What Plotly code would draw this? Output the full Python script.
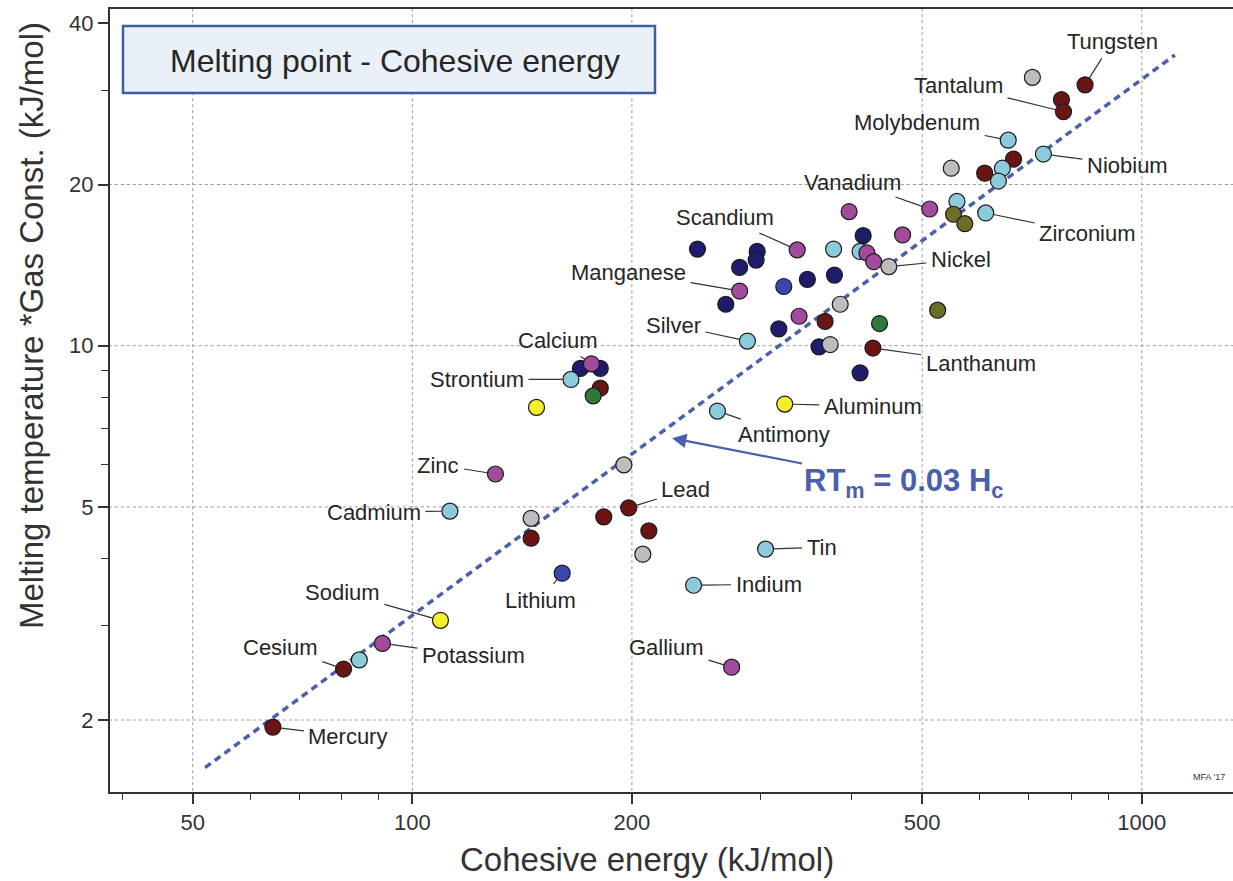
import numpy as np
import plotly.graph_objects as go

# ---------------- data ----------------
energy = [708, 836, 776, 781, 656, 733, 667, 644, 548, 609, 636, 558, 552, 572, 611,
          512, 397, 470, 415, 337, 378, 411, 420, 429, 450, 246, 297, 296, 281, 281,
          269, 323, 348, 379, 386, 339, 368, 318, 288, 361, 374, 428, 437, 525, 411,
          324, 262, 170, 176, 181, 165, 181, 177, 148, 130, 112.6, 145.5, 145.5, 195, 198,
          183, 211, 207, 160.5, 305, 243, 274, 109.3, 91, 84.6, 80.5, 64.4]
rtm = [31.7, 30.7, 28.8, 27.35, 24.2, 22.8, 22.3, 21.45, 21.45, 21.0, 20.3, 18.6, 17.6, 16.9, 17.7,
       18.0, 17.8, 16.1, 16.05, 15.1, 15.15, 15.0, 14.9, 14.35, 14.05, 15.15, 15.0, 14.45, 14.0, 12.65,
       11.95, 12.9, 13.3, 13.55, 11.95, 11.35, 11.1, 10.75, 10.2, 9.95, 10.05, 9.9, 11.0, 11.65, 8.9,
       7.78, 7.55, 9.07, 9.25, 9.07, 8.65, 8.33, 8.06, 7.67, 5.76, 4.91, 4.76, 4.37, 5.99, 4.98,
       4.79, 4.51, 4.08, 3.76, 4.17, 3.57, 2.51, 3.07, 2.78, 2.59, 2.49, 1.94]
group = ["gray", "maroon", "maroon", "maroon", "lightblue", "lightblue", "maroon", "lightblue", "gray", "maroon",
         "lightblue", "lightblue", "olive", "olive", "lightblue", "purple", "purple", "purple", "navy", "purple",
         "lightblue", "lightblue", "purple", "purple", "gray", "navy", "navy", "navy", "navy", "purple",
         "navy", "medblue", "navy", "navy", "gray", "purple", "maroon", "navy", "lightblue", "navy",
         "gray", "maroon", "green", "olive", "navy", "yellow", "lightblue", "navy", "purple", "navy",
         "lightblue", "maroon", "green", "yellow", "purple", "lightblue", "gray", "maroon", "gray", "maroon",
         "maroon", "maroon", "gray", "medblue", "lightblue", "lightblue", "purple", "yellow", "purple", "lightblue",
         "maroon", "maroon"]
names = ["", "Tungsten", "", "Tantalum", "Molybdenum", "Niobium", "", "", "", "",
         "", "", "", "", "Zirconium", "Vanadium", "", "", "", "Scandium",
         "", "", "", "", "Nickel", "", "", "", "", "Manganese",
         "", "", "", "", "", "", "", "", "Silver", "",
         "", "Lanthanum", "", "", "", "Aluminum", "Antimony", "", "Calcium", "",
         "Strontium", "", "", "", "Zinc", "Cadmium", "", "", "", "Lead",
         "", "", "", "Lithium", "Tin", "Indium", "Gallium", "Sodium", "Potassium", "",
         "Cesium", "Mercury"]

x_major = [50, 100, 200, 500, 1000]
x_minor = [40, 60, 70, 80, 90, 300, 400, 600, 700, 800, 900]
y_major = [2, 5, 10, 20, 40]
y_minor = [3, 4, 6, 7, 8, 9, 30]
x_grid = [50, 100, 200, 500, 1000]
y_grid = [2, 5, 10, 20]

fit_x = [52, 1110]
fit_y = [1.63, 34.9]
arrow_point = [227, 6.72]

# ---------------- styles / layout ----------------
W, H = 1233, 881
L, R, T, B = 110, 0, 9, 89
PW, PH = W - L - R, H - T - B

def px(xp):
    return (xp - L) / PW

def py(yp):
    return 1 - (yp - T) / PH

colors = {
    "maroon": "#6b1414", "navy": "#1f1c6c", "lightblue": "#8ccbdb", "purple": "#a24a9c",
    "gray": "#bdbdbd", "olive": "#6c6d26", "green": "#2f7a38", "yellow": "#f4ef2c",
    "medblue": "#3b47b0",
}

label_offsets = {
    "Tungsten": (27, -43), "Tantalum": (-105, -26), "Molybdenum": (-91, -18),
    "Niobium": (84, 11), "Vanadium": (-77, -27), "Zirconium": (102, 21),
    "Nickel": (72, -7), "Scandium": (-72, -32), "Manganese": (-111, -19),
    "Silver": (-74, -16), "Lanthanum": (108, 15), "Calcium": (-34, -23),
    "Strontium": (-94, 0), "Aluminum": (88, 2), "Antimony": (67, 23),
    "Zinc": (-57, -9), "Cadmium": (-76, 1), "Lead": (57, -18), "Tin": (56, -2),
    "Indium": (75, -1), "Lithium": (-22, 27), "Sodium": (-98, -28),
    "Potassium": (91, 12), "Cesium": (-63, -22), "Mercury": (75, 9),
    "Gallium": (-65, -20),
}

FONT = "Liberation Sans, Arial, sans-serif"
TXT = "#262626"
BLUE = "#4a60ad"

fig = go.Figure()

# grid lines
for gx in x_grid:
    fig.add_trace(go.Scatter(x=[gx, gx], y=[1, 100], mode="lines",
                             line=dict(color="#9a9a9a", width=1, dash="3px,3px"),
                             hoverinfo="skip", showlegend=False))
for gy in y_grid:
    fig.add_trace(go.Scatter(x=[10, 5000], y=[gy, gy], mode="lines",
                             line=dict(color="#9a9a9a", width=1, dash="3px,3px"),
                             hoverinfo="skip", showlegend=False))

# fit line
fig.add_trace(go.Scatter(x=fit_x, y=fit_y, mode="lines",
                         line=dict(color=BLUE, width=3.5, dash="7px,5px"),
                         hoverinfo="skip", showlegend=False))

# markers per colour group
order = ["maroon", "navy", "lightblue", "purple", "gray", "olive", "green", "yellow", "medblue"]
for g in order:
    xs = [e for e, gg in zip(energy, group) if gg == g]
    ys = [t for t, gg in zip(rtm, group) if gg == g]
    fig.add_trace(go.Scatter(x=xs, y=ys, mode="markers",
                             marker=dict(size=16, color=colors[g],
                                         line=dict(color="#1a1a1a", width=1.2)),
                             showlegend=False, hoverinfo="skip"))

annotations = []
for e, t, n in zip(energy, rtm, names):
    if not n:
        continue
    ax, ay = label_offsets[n]
    annotations.append(dict(
        x=np.log10(e), y=np.log10(t), xref="x", yref="y", text=n,
        showarrow=True, arrowhead=0, arrowwidth=1.2, arrowcolor="#333333",
        ax=ax, ay=ay, standoff=8, startstandoff=3,
        font=dict(family=FONT, size=22, color=TXT)))

# RTm annotation
annotations.append(dict(
    x=np.log10(arrow_point[0]), y=np.log10(arrow_point[1]), xref="x", yref="y",
    text="<b>RT<sub>m</sub> = 0.03 H<sub>c</sub></b>",
    showarrow=True, arrowhead=2, arrowsize=1.3, arrowwidth=2.2, arrowcolor=BLUE,
    ax=231, ay=45, standoff=0,
    font=dict(family=FONT, size=31, color=BLUE)))

# title box text
annotations.append(dict(x=px(395), y=py(61), xref="paper", yref="paper",
                        text="Melting point - Cohesive energy", showarrow=False,
                        xanchor="center", yanchor="middle",
                        font=dict(family=FONT, size=32, color=TXT)))
# axis titles
annotations.append(dict(x=px(647), y=py(860), xref="paper", yref="paper",
                        text="Cohesive energy (kJ/mol)", showarrow=False,
                        xanchor="center", yanchor="middle",
                        font=dict(family=FONT, size=33, color="#333333")))
annotations.append(dict(x=px(32), y=py(326), xref="paper", yref="paper",
                        text="Melting temperature *Gas Const. (kJ/mol)", showarrow=False,
                        textangle=-90, xanchor="center", yanchor="middle",
                        font=dict(family=FONT, size=33, color="#333333")))
annotations.append(dict(x=px(1191), y=py(777), xref="paper", yref="paper",
                        text="MFA '17", showarrow=False, xanchor="left", yanchor="middle",
                        font=dict(family=FONT, size=9, color="#333333")))

shapes = [dict(type="rect", xref="paper", yref="paper",
               x0=px(123), x1=px(655), y0=py(93), y1=py(26),
               fillcolor="#eaf0f7", line=dict(color="#3f5da0", width=2.5), layer="above")]

fig.update_layout(
    width=W, height=H, margin=dict(l=L, r=R, t=T, b=B, pad=0),
    paper_bgcolor="white", plot_bgcolor="white",
    annotations=annotations, shapes=shapes, showlegend=False,
    font=dict(family=FONT, color="#333333"),
)
fig.update_xaxes(
    type="log", range=[1.58561, 3.12502], showgrid=False, zeroline=False,
    showline=True, linecolor="#333333", linewidth=2, mirror=True,
    tickmode="array", tickvals=x_major, ticktext=[str(v) for v in x_major],
    ticks="outside", ticklen=10, tickwidth=1.5, tickcolor="#333333",
    tickfont=dict(family=FONT, size=22, color="#333333"),
    minor=dict(tickmode="array", tickvals=x_minor, ticks="outside", ticklen=6,
               tickwidth=1.2, tickcolor="#333333", showgrid=False),
)
fig.update_yaxes(
    type="log", range=[0.16658, 1.62876], showgrid=False, zeroline=False,
    showline=True, linecolor="#333333", linewidth=2,
    tickmode="array", tickvals=y_major, ticktext=[str(v) for v in y_major],
    ticks="outside", ticklen=10, tickwidth=1.5, tickcolor="#333333",
    tickfont=dict(family=FONT, size=22, color="#333333"),
    minor=dict(tickmode="array", tickvals=y_minor, ticks="outside", ticklen=7,
               tickwidth=1.2, tickcolor="#333333", showgrid=False),
)

fig.write_html("out.html")
